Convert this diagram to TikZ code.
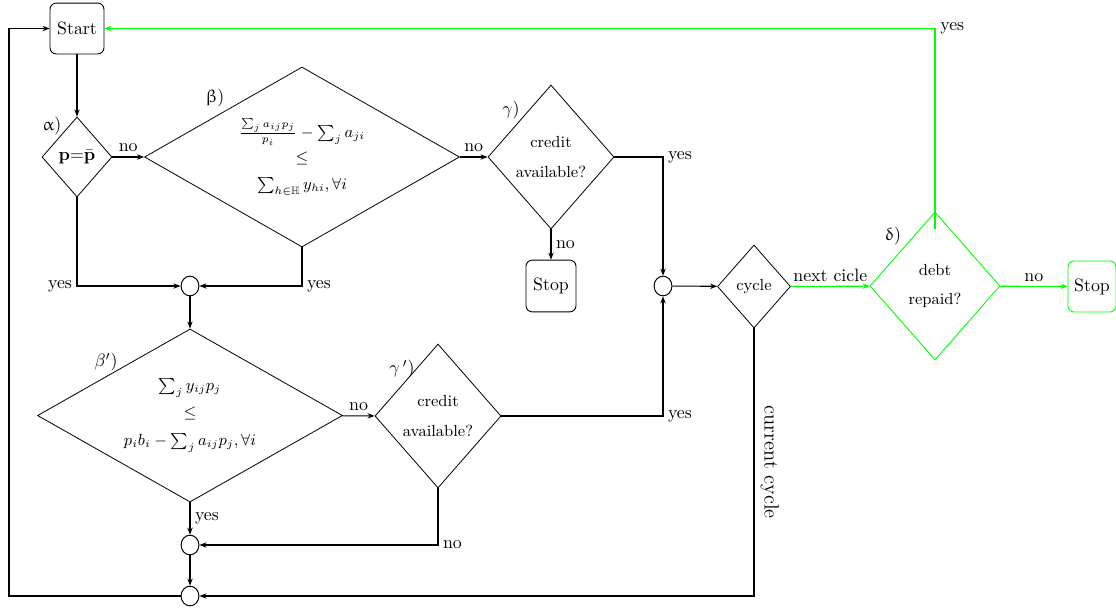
\documentclass[tikz,border=0pt]{standalone}
\usepackage{amsmath,amssymb}
\usepackage{upgreek}
\usetikzlibrary{shapes.geometric,arrows.meta,calc}
\definecolor{grn}{RGB}{0,255,0}
\begin{document}
\begin{tikzpicture}[x=0.56pt,y=-0.56pt,
  dia/.style={diamond,draw,line width=0.45pt,inner sep=0pt,align=center,font=\small},
  term/.style={draw,rounded corners=3.5pt,line width=0.5pt,inner sep=1pt},
  junc/.style={ellipse,draw,line width=0.55pt,minimum width=10pt,minimum height=11pt,inner sep=0pt},
  conn/.style={line width=0.6pt,-{Stealth[length=4pt,width=3pt]}},
  gconn/.style={conn,draw=grn},
  lbl/.style={inner sep=2.5pt}
]
\useasboundingbox (0,0) rectangle (1116,608);

% nodes
\node[term,minimum width=30.2pt,minimum height=28.5pt] (start) at (77,28.5) {Start};
\node[dia,minimum width=39.2pt,minimum height=44.8pt,aspect=0.875,font=\normalsize] (alpha) at (77,157) {$\mathbf{p}{=}\bar{\mathbf{p}}$};
\node[dia,minimum width=176.4pt,minimum height=100.8pt,aspect=1.75] (beta) at (302,157)
  {$\frac{\sum_j a_{ij}p_j}{p_i}-\sum_j a_{ji}$\\[3pt]$\leq$\\[4pt]$\sum_{h\in\mathbb{H}} y_{hi},\forall i$};
\node[dia,minimum width=70.6pt,minimum height=80.6pt,aspect=0.875] (gamma) at (551,157) {credit\\[5.5pt]available?};
\node[term,minimum width=28pt,minimum height=29pt] (stop1) at (551,286) {Stop};
\node[junc] (j1) at (190,286) {};
\node[junc] (j3) at (663,286) {};
\node[junc] (j2) at (190,545) {};
\node[junc] (j4) at (190,596) {};
\node[dia,minimum width=40.9pt,minimum height=46.5pt,aspect=0.88] (cycle) at (754,286.5) {cycle};
\node[dia,draw=grn,line width=0.5pt,minimum width=72.8pt,minimum height=82.9pt,aspect=0.88] (delta) at (935,286) {debt\\[5.5pt]repaid?};
\node[term,draw=grn,minimum width=26.9pt,minimum height=28.6pt] (stop2) at (1092,286.5) {Stop};
\node[dia,minimum width=170.8pt,minimum height=96.9pt,aspect=1.76] (betap) at (190,415.5)
  {$\sum_j y_{ij}p_j$\\[4pt]$\leq$\\[5pt]$p_ib_i-\sum_j a_{ij}p_j,\forall i$};
\node[dia,minimum width=70.6pt,minimum height=80.6pt,aspect=0.875] (gammap) at (438,416) {credit\\[5.5pt]available?};

% step labels
\node (la) at (52,126) {$\upalpha$)};
\node (lb) at (215,98) {$\upbeta$)};
\node (lg) at (511,110) {$\gamma$)};
\node (ld) at (893,236) {$\updelta$)};
\node (lbp) at (106,362) {$\beta'$)};
\node (lgp) at (402,369) {$\gamma\,'$)};

\coordinate (lx) at (9,0);

% connectors
\draw[conn] (start) -- (alpha);
\draw[conn] (alpha) -- node[lbl,above]{no} (beta);
\draw[conn] (beta) -- node[lbl,above]{no} (gamma);
\draw[conn] (gamma) -- node[lbl,right]{no} (stop1);
\draw[conn] (gamma.east) -| node[lbl,pos=0.5,anchor=west]{yes} (j3);
\draw[conn] (alpha.south) |- node[lbl,pos=0.5,anchor=east]{yes} (j1);
\draw[conn] (beta.south) |- node[lbl,pos=0.5,anchor=west]{yes} (j1);
\draw[conn] (j1) -- (betap);
\draw[conn] (betap) -- node[lbl,above]{no} (gammap);
\draw[conn] (gammap.east) -| node[lbl,pos=0.5,anchor=west]{yes} (j3);
\draw[conn] (betap) -- node[lbl,right]{yes} (j2);
\draw[conn] (gammap.south) |- node[lbl,pos=0.5,anchor=west]{no} (j2);
\draw[conn] (j2) -- (j4);
\draw[conn] (j3) -- (cycle);
\draw[gconn] (cycle) -- node[lbl,above]{next cicle} (delta);
\draw[gconn] (delta) -- node[lbl,above]{no} (stop2);
\draw[gconn,line width=1pt] ($(delta.north)+(0,17)$) |- node[lbl,pos=0.5,anchor=west]{yes} (start.east);
\draw[conn] (j4.west) -| (lx |- start.west) -- (start.west);
\draw[conn] (cycle.south) -- node[rotate=-90,anchor=south,font=\fontsize{11.5}{14}\selectfont]{current cycle} (cycle.south |- j4) -- (j4.east);
\end{tikzpicture}
\end{document}
